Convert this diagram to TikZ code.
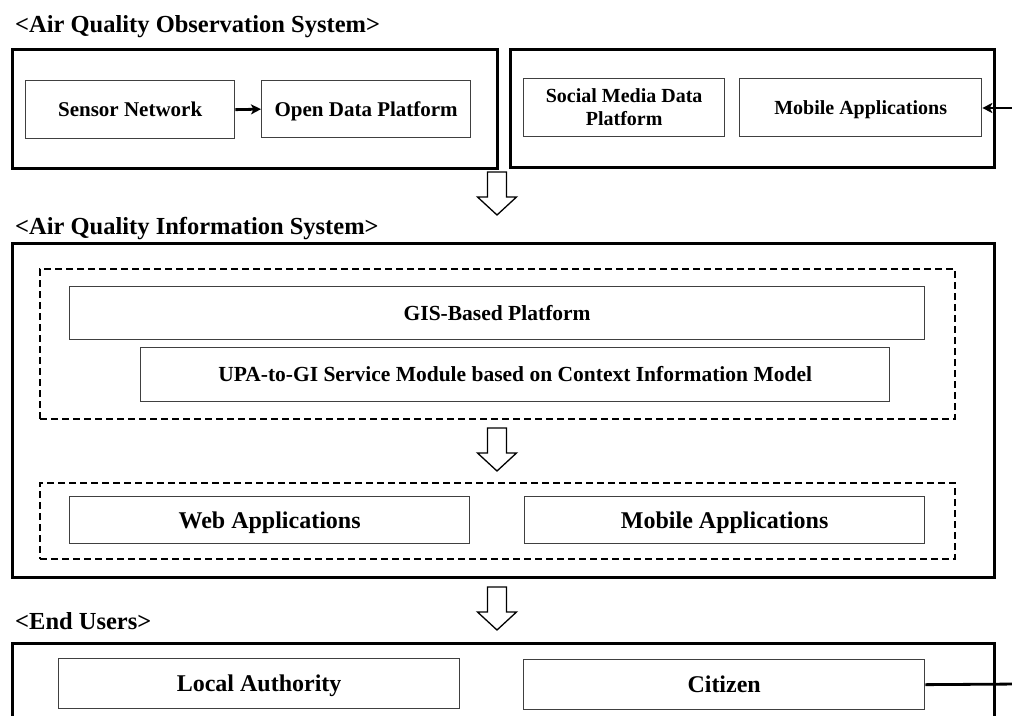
\documentclass[tikz,border=0pt]{standalone}
\usepackage{fontspec}
\setmainfont{Liberation Serif}
\usetikzlibrary{arrows.meta}
\begin{document}
\begin{tikzpicture}[x=1pt,y=-1pt,
  outerbox/.style={draw=black, line width=2.6pt, anchor=north west, inner sep=0pt},
  dashbox/.style={draw=black, line width=2pt, dash pattern=on 7pt off 4pt, anchor=north west, inner sep=0pt},
  inbox/.style={draw=black!75, line width=1.3pt, fill=white, anchor=north west, inner sep=0pt},
  ttl/.style={anchor=base west, inner sep=0pt, font=\bfseries\fontsize{24.5}{28}\selectfont},
  fa/.style={font=\bfseries\fontsize{20}{23}\selectfont},
  fa1/.style={fa, text height=13.2pt, text depth=0pt},
  fb/.style={font=\bfseries\fontsize{21}{24}\selectfont, text height=13.9pt, text depth=0pt},
  fc/.style={font=\bfseries\fontsize{21.5}{24}\selectfont, text height=14.2pt, text depth=0pt},
  fd/.style={font=\bfseries\fontsize{24}{28}\selectfont, text height=15.8pt, text depth=0pt},
  conn/.style={line width=2.8pt, -{Stealth[length=10pt,width=10pt,inset=2.5pt]}},
  hollow/.pic={\draw[line width=1.3pt, line join=miter, fill=white]
     (-9.5,0) -- (9.5,0) -- (9.5,25) -- (19.5,25) -- (0,43) -- (-19.5,25) -- (-9.5,25) -- cycle;}
]
\useasboundingbox (0,0) rectangle (1012,715);
\clip (0,0) rectangle (1012,715);
\fill[white] (0,0) rectangle (1012,715);

% --- Observation system
\node[ttl] (t1) at (15,32) {<Air Quality Observation System>};
\node[outerbox, minimum width=485pt, minimum height=119pt] (obsA) at (11,48) {};
\node[outerbox, minimum width=484pt, minimum height=118pt] (obsB) at (509,48) {};
\node[inbox, fb, minimum width=209pt, minimum height=58pt] (sensor) at (25,80) {Sensor Network};
\node[inbox, fb, minimum width=209pt, minimum height=57pt] (open) at (261,80) {Open Data Platform};
\node[inbox, fa, align=center, minimum width=201pt, minimum height=58pt] (social) at (523,78) {Social Media Data\\Platform};
\node[inbox, fa1, minimum width=242pt, minimum height=58pt] (mobtop) at (739,78) {Mobile Applications};
\draw[conn] (sensor.east) -- (open.west);
\coordinate (fbin) at (1020,108);
\draw[conn] (fbin) -- (mobtop.east |- fbin);

\pic at (497,172) {hollow};

% --- Information system
\node[ttl] (t2) at (15,234) {<Air Quality Information System>};
\node[outerbox, minimum width=982pt, minimum height=334pt] (info) at (11,242) {};
\node[dashbox, minimum width=915pt, minimum height=150pt] (grpA) at (39,268) {};
\node[inbox, fc, minimum width=855pt, minimum height=53pt] (gis) at (69,286) {GIS-Based Platform};
\node[inbox, fc, minimum width=749pt, minimum height=54pt] (upa) at (140,347) {UPA-to-GI Service Module based on Context Information Model};

\pic at (497,428) {hollow};

\node[dashbox, minimum width=915pt, minimum height=76pt] (grpB) at (39,482) {};
\node[inbox, fd, minimum width=400pt, minimum height=47pt] (web) at (69,496) {Web Applications};
\node[inbox, fd, minimum width=400pt, minimum height=47pt] (mob) at (524,496) {Mobile Applications};

\pic at (497,587) {hollow};

% --- End users
\node[ttl] (t3) at (15,629) {<End Users>};
\node[outerbox, minimum width=982pt, minimum height=120pt] (users) at (11,642) {};
\node[inbox, fd, minimum width=401pt, minimum height=50pt] (local) at (58,658) {Local Authority};
\node[inbox, fd, minimum width=401pt, minimum height=50pt] (citizen) at (523,659) {Citizen};
\coordinate (fbout) at (1020,684);
\draw[line width=2.8pt] (citizen.east) -- (fbout);
\end{tikzpicture}
\end{document}
